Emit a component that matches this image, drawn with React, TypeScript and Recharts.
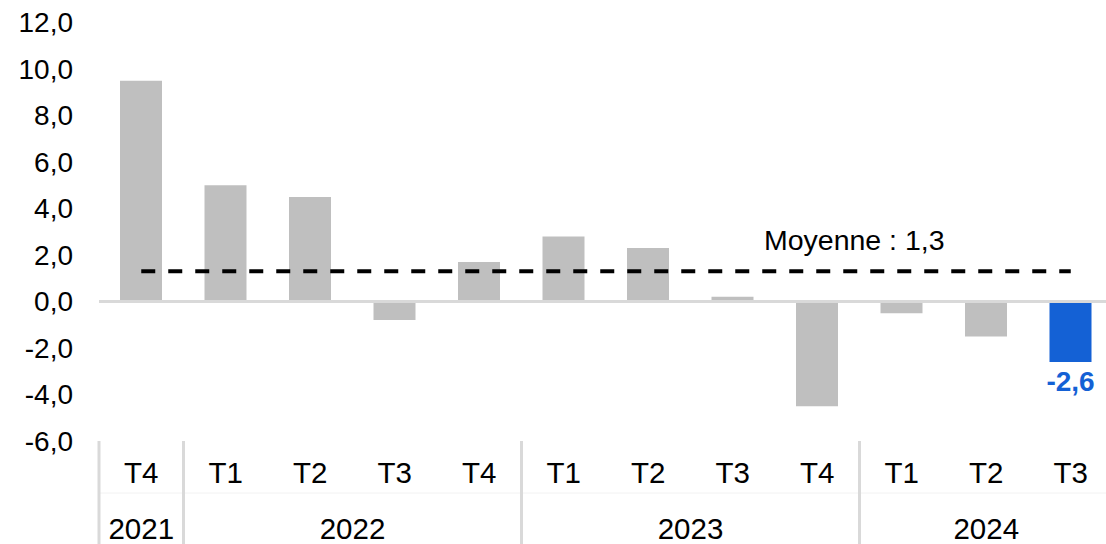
import React from 'react';
import { ComposedChart, Bar, Line, XAxis, YAxis, ReferenceLine, Cell, LabelList } from 'recharts';

const quarters = ['T4', 'T1', 'T2', 'T3', 'T4', 'T1', 'T2', 'T3', 'T4', 'T1', 'T2', 'T3'];
const years = ['2021', '2022', '2022', '2022', '2022', '2023', '2023', '2023', '2023', '2024', '2024', '2024'];
const values = [9.5, 5.0, 4.5, -0.8, 1.7, 2.8, 2.3, 0.2, -4.5, -0.5, -1.5, -2.6];
const average = 1.3;
const averageLabel = 'Moyenne : 1,3';
const yTicks = [-6, -4, -2, 0, 2, 4, 6, 8, 10, 12];

const data = quarters.map((q, i) => ({ q, year: years[i], value: values[i], moyenne: average }));

const W = 1120;
const H = 544;
const LEFT = 99;
const RIGHT_EDGE = 1113;
const TOP = 22.5;
const AXIS_TOP = 441;
const BAND = (RIGHT_EDGE - LEFT) / data.length;
const FONT = '"Liberation Sans", Arial, sans-serif';
const GREY = '#bfbfbf';
const BLUE = '#1461d5';
const SEP = '#d9d9d9';

const fmt = (v: number) => v.toFixed(1).replace('.', ',');

const XTick = (props: any) => {
  const { x, payload } = props;
  const i = payload.index;
  const yr = years[i];
  const first = i === 0 || years[i - 1] !== yr;
  let count = 0;
  if (first) {
    for (let j = i; j < years.length && years[j] === yr; j++) count++;
  }
  const left = x - BAND / 2;
  return (
    <g>
      <text x={x} y={472} textAnchor="middle" dominantBaseline="central" fontSize={29.5} fontFamily={FONT} fill="#000">
        {payload.value}
      </text>
      {first && (
        <>
          <line x1={left} x2={left} y1={AXIS_TOP} y2={H} stroke={SEP} strokeWidth={3} />
          <text x={left + (count * BAND) / 2} y={528} textAnchor="middle" dominantBaseline="central" fontSize={29.5} fontFamily={FONT} fill="#000">
            {yr}
          </text>
        </>
      )}
    </g>
  );
};

const BarLabel = (props: any) => {
  const { x, y, width, height, index, value } = props;
  if (index !== data.length - 1) return null;
  const bottom = Math.max(y, y + height);
  return (
    <text x={x + width / 2} y={bottom + 20} textAnchor="middle" dominantBaseline="central" fontSize={28} fontWeight="bold" fontFamily={FONT} fill={BLUE}>
      {fmt(value)}
    </text>
  );
};

const AvgLabel = (props: any) => {
  const { x, y, index } = props;
  if (index !== 8) return null;
  return (
    <text x={x + 37} y={y - 31} textAnchor="middle" dominantBaseline="central" fontSize={28.5} fontFamily={FONT} fill="#000">
      {averageLabel}
    </text>
  );
};

export default function App() {
  return (
    <div style={{ position: 'absolute', left: 0, top: 0, width: 1106, height: 544, overflow: 'hidden', background: '#fff' }}>
      <ComposedChart width={W} height={H} data={data} margin={{ top: TOP, right: W - RIGHT_EDGE, left: 0, bottom: 0 }}>
        <line x1={LEFT} x2={W} y1={493} y2={493} stroke="#f2f2f2" strokeWidth={1} />
        <XAxis dataKey="q" axisLine={false} tickLine={false} interval={0} height={H - AXIS_TOP} tick={<XTick />} />
        <YAxis
          width={LEFT}
          domain={[-6, 12]}
          ticks={yTicks}
          tickFormatter={fmt}
          axisLine={false}
          tickLine={false}
          tickSize={0}
          tickMargin={26}
          tick={{ fontSize: 28, fontFamily: FONT, fill: '#000' }}
          interval={0}
        />
        <Bar dataKey="value" barSize={42} isAnimationActive={false}>
          {data.map((d, i) => (
            <Cell key={i} fill={i === data.length - 1 ? BLUE : GREY} />
          ))}
          <LabelList dataKey="value" content={<BarLabel />} />
        </Bar>
        <ReferenceLine y={0} stroke={SEP} strokeWidth={3} />
        <Line dataKey="moyenne" stroke="#000" strokeWidth={4} strokeDasharray="14 13" dot={false} activeDot={false} isAnimationActive={false}>
          <LabelList dataKey="moyenne" content={<AvgLabel />} />
        </Line>
      </ComposedChart>
    </div>
  );
}
